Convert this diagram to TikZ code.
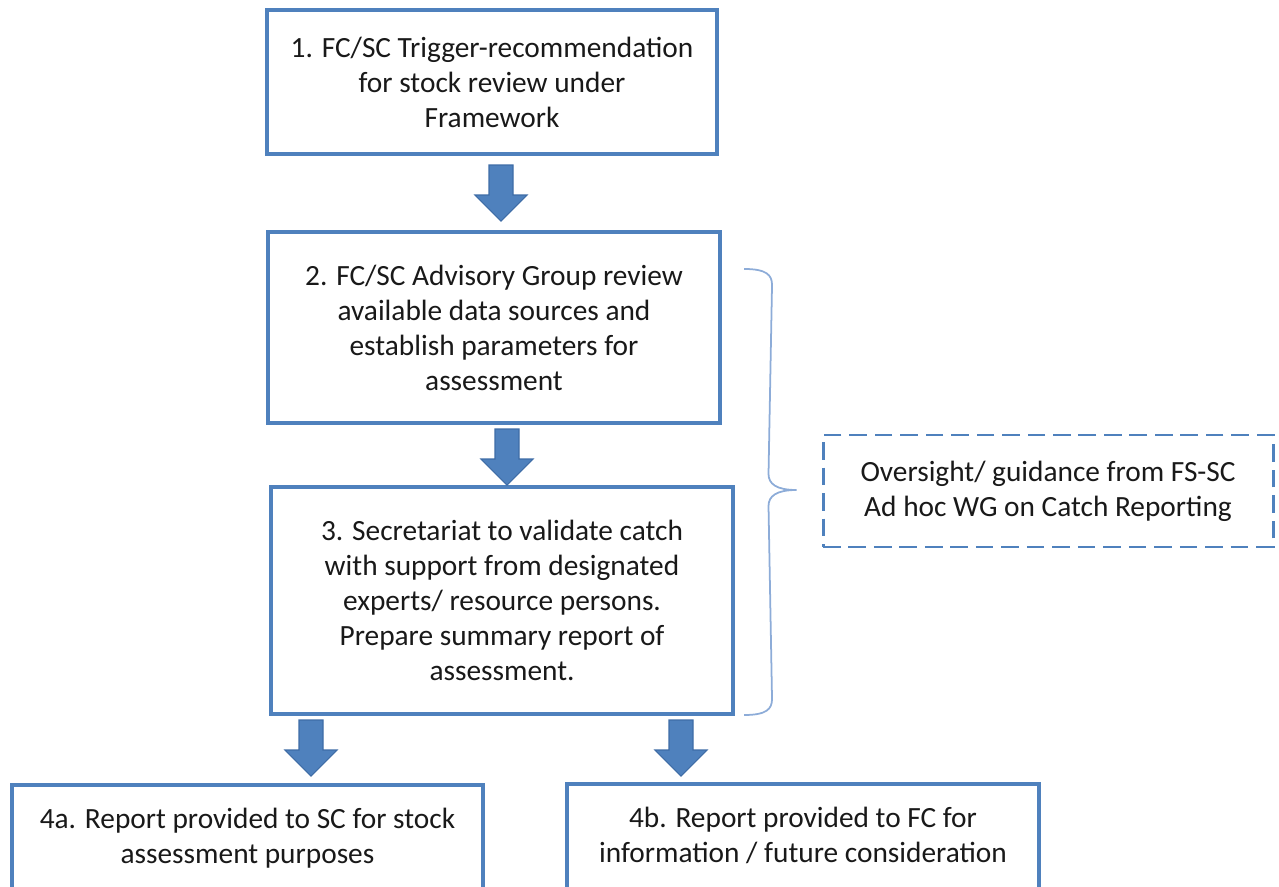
\documentclass[tikz,border=0pt]{standalone}
\usepackage{fontspec}
\setmainfont{Carlito}
\usepackage{xcolor}
\usetikzlibrary{calc}
\usetikzlibrary{math}

\definecolor{boxblue}{HTML}{4F81BD}
\definecolor{arrowedge}{HTML}{3E6CA6}
\definecolor{braceblue}{HTML}{8DACD8}

\tikzset{
  stepbox/.style={draw=boxblue, line width=2.3pt, fill=white, align=center,
    inner sep=0pt, text=black!90, font=\fontsize{16.7}{19.9}\selectfont},
  reportbox/.style={stepbox, anchor=north, inner ysep=13pt, text depth=2cm},
  guidebox/.style={stepbox, line width=1.7pt, dash pattern=on 10pt off 4.5pt},
  blockarrow/.style={fill=boxblue, draw=arrowedge, line width=0.6pt, line join=miter},
  bracket/.style={draw=braceblue, line width=1pt}
}

% downward block arrow, #1 = centre of its top edge
\newcommand{\blockarrow}[1]{%
  \draw[blockarrow] ($ (#1) + (-\arrshaft,0) $) -- ++(0,-\arrstem)
    -- ($ (#1) + (-\arrhead,-\arrstem) $) -- ($ (#1) + (0,-\arrlen) $)
    -- ($ (#1) + (\arrhead,-\arrstem) $) -- ($ (#1) + (\arrshaft,-\arrstem) $)
    -- ($ (#1) + (\arrshaft,0) $) -- cycle;}

\begin{document}
\begin{tikzpicture}

  \tikzmath{
    \arrshaft = 0.24; % half width of the arrow shaft
    \arrhead  = 0.52; % half width of the arrow head
    \arrlen   = 1.12; % total length of an arrow
    \arrstem  = 0.60; % length of the shaft
    \bw       = 0.56; % half depth of the brace
    \bh       = 0.32; % height of the brace curls
  }

  \useasboundingbox (0,0) rectangle (25.58,17.72);
  \clip (0,0) rectangle (25.58,17.72);

  % the steps
  \node[stepbox, minimum width=9.0cm, minimum height=2.88cm] (box1) at (9.84,16.08)
    {1. FC/SC Trigger-recommendation\\for stock review under\\Framework};

  \node[stepbox, minimum width=9.04cm, minimum height=3.82cm] (box2) at (9.88,11.17)
    {2. FC/SC Advisory Group review\\available data sources and\\establish parameters for\\assessment};

  \node[stepbox, minimum width=9.24cm, minimum height=4.54cm] (box3) at (10.04,5.71)
    {3. Secretariat to validate catch\\with support from designated\\experts/ resource persons.\\Prepare summary report of\\assessment.};

  \node[reportbox, minimum width=9.42cm] (box4a) at (4.95,2.06)
    {4a. Report provided to SC for stock\\assessment purposes};

  \node[reportbox, minimum width=9.44cm] (box4b) at (16.06,2.08)
    {4b. Report provided to FC for\\information / future consideration};

  % oversight group
  \node[guidebox, minimum width=9.0cm, minimum height=2.24cm] (guide) at (20.96,7.90)
    {Oversight/ guidance from FS-SC\\Ad hoc WG on Catch Reporting};

  % arrows between the steps
  \coordinate (A1) at ($ (box1.south) + (0.18,-0.18) $);
  \coordinate (A2) at ($ (box2.south) + (0.26,-0.08) $);
  \coordinate (A3) at ($ (box3.south) + (-3.82,-0.08) $);
  \coordinate (A4) at ($ (box3.south) + (3.58,-0.08) $);
  \blockarrow{A1}
  \blockarrow{A2}
  \blockarrow{A3}
  \blockarrow{A4}

  % brace over steps 2 and 3, pointing at the oversight group
  \coordinate (braceTop) at ($ (box2.north east) + (0.44,-0.78) $);
  \coordinate (braceBot) at ($ (box3.south east) + (0.18,0.02) $);
  \coordinate (braceTip) at ($ (guide.west) + (-0.50,0.02) $);
  \draw[bracket] (braceTop)
    .. controls +(0.45,0) and +(0,0.2) .. ($ (braceTop) + (\bw,-\bh) $)
    -- ($ (braceTip) + (-\bw,\bh) $)
    .. controls +(0,-0.2) and +(-0.4,0) .. (braceTip)
    .. controls +(-0.4,0) and +(0,0.2) .. ($ (braceTip) + (-\bw,-\bh) $)
    -- ($ (braceBot) + (\bw,\bh) $)
    .. controls +(0,-0.2) and +(0.45,0) .. (braceBot);

\end{tikzpicture}
\end{document}
